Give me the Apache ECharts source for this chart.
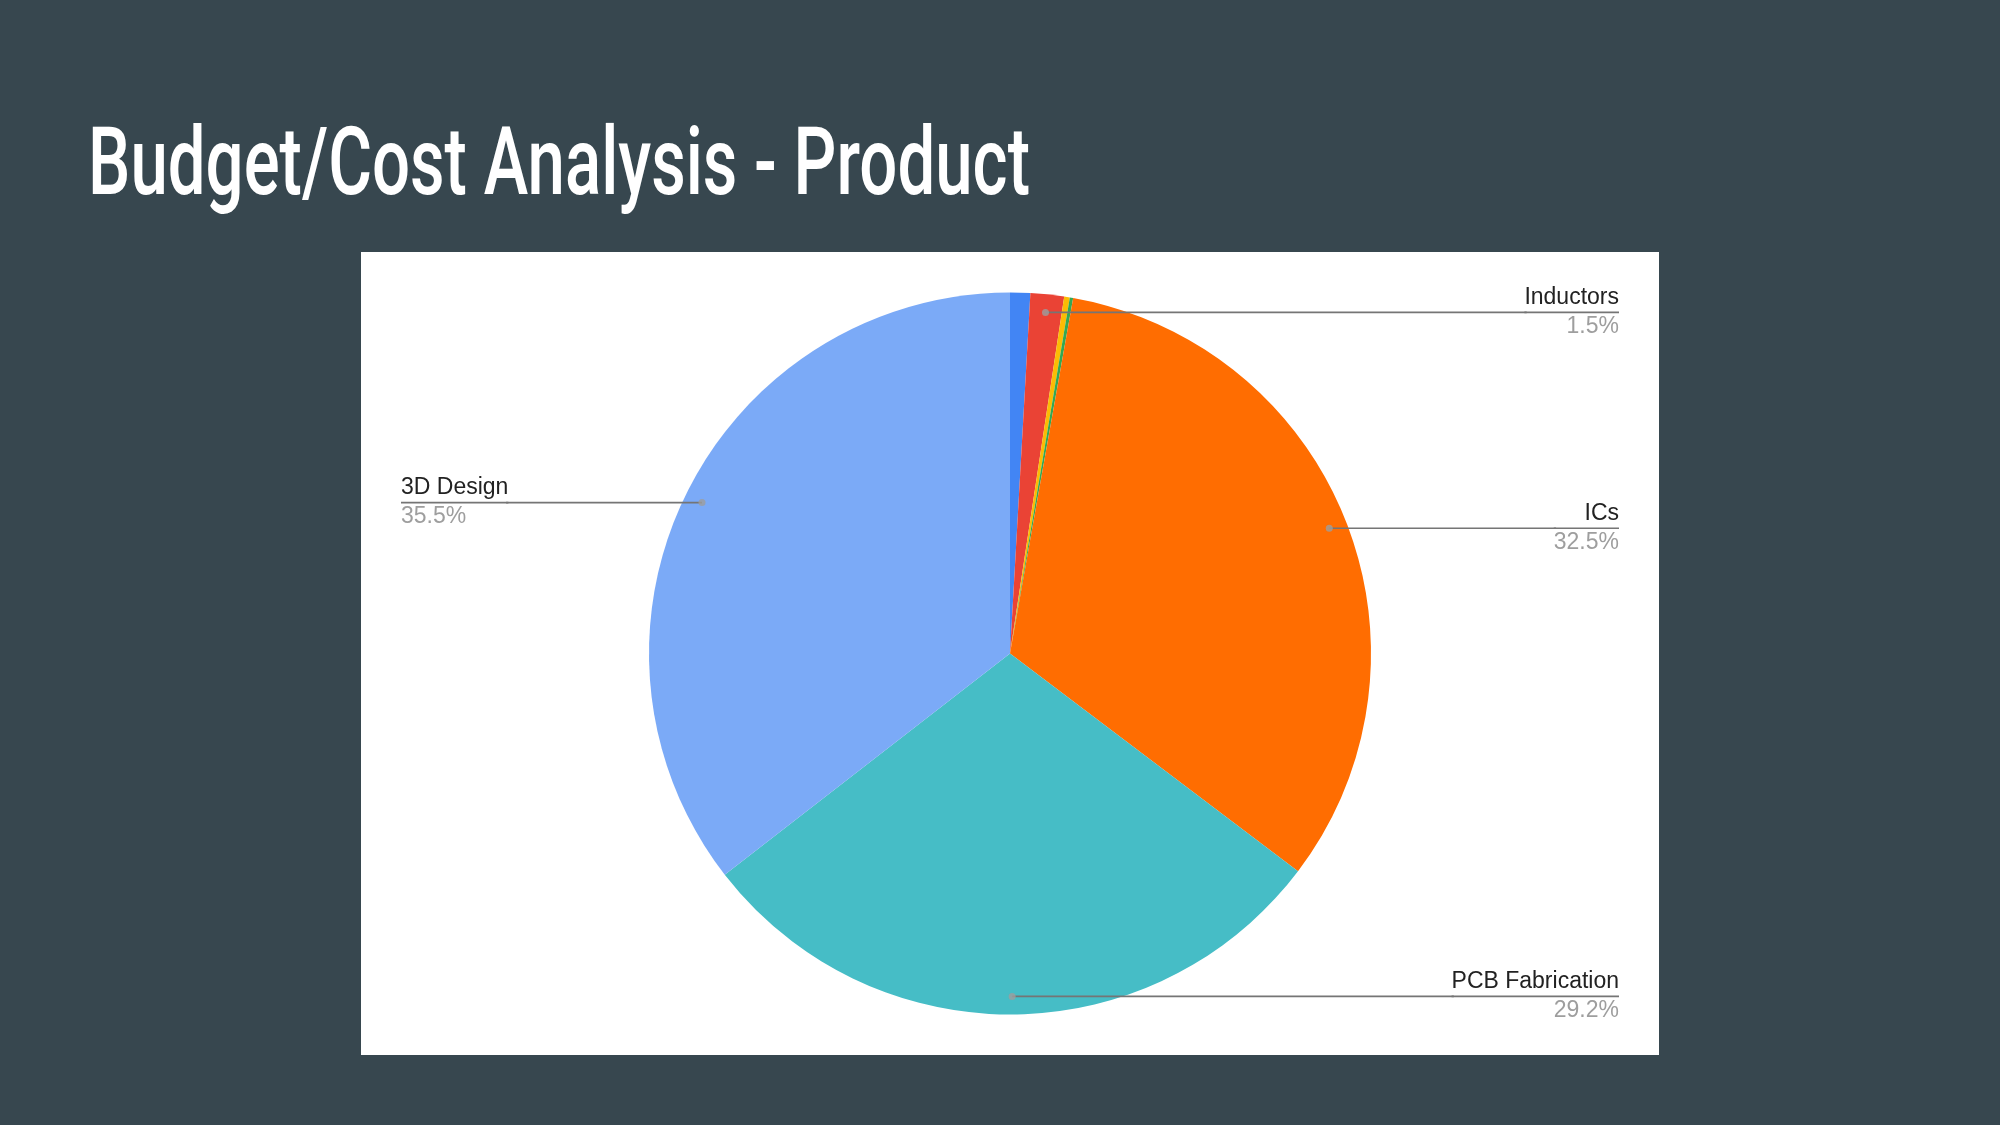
<!DOCTYPE html>
<html>
<head>
<meta charset="utf-8">
<title>Budget/Cost Analysis - Product</title>
<script src="https://cdn.jsdelivr.net/npm/echarts@6/dist/echarts.min.js"></script>
<style>
  html, body { margin: 0; padding: 0; background: #37474f; }
  #chart { width: 2000px; height: 1125px; }
</style>
</head>
<body>
<div id="chart"></div>
<script>
const slideTitle = 'Budget/Cost Analysis - Product';

// slices, clockwise from 12 o'clock (the three slivers carry no label in the source)
const categories = ['Other A', 'Inductors', 'Other B', 'Other C', 'ICs', 'PCB Fabrication', '3D Design'];
const shares = [0.9, 1.5, 0.25, 0.15, 32.5, 29.2, 35.5];
const sliceColors = ['#4285f4', '#ea4335', '#fbbc04', '#34a853', '#ff6d01', '#46bdc6', '#7baaf7'];
const labelled = ['Inductors', 'ICs', 'PCB Fabrication', '3D Design'];

// panel + pie geometry
const panel = { x: 361, y: 252, w: 1298, h: 803 };
const pieRadius = 361;
const pieCenter = [panel.x + panel.w / 2, panel.y + panel.h / 2];

// leader dots sit on each labelled slice's mid angle, a bit inside the rim
const total = shares.reduce((a, b) => a + b, 0);
const dotData = [];
let acc = 0;
shares.forEach((v, i) => {
  if (labelled.includes(categories[i])) dotData.push([0.95, (acc + v / 2) / total * 100]);
  acc += v;
});

// squeeze a regular font to stand in for the condensed slide title face
const titleFont = '500 94px Roboto';
const ctx = document.createElement('canvas').getContext('2d');
ctx.font = titleFont;
const titleScale = 942 / ctx.measureText(slideTitle).width;

const chart = echarts.init(document.getElementById('chart'));

const option = {
  backgroundColor: '#37474f',
  animation: false,
  graphic: [
    {
      type: 'rect',
      silent: true,
      shape: { x: panel.x, y: panel.y, width: panel.w, height: panel.h },
      style: { fill: '#ffffff' }
    },
    {
      type: 'text',
      x: 88,
      y: 170,
      scaleX: titleScale,
      style: {
        text: slideTitle,
        font: titleFont,
        fill: '#ffffff',
        verticalAlign: 'middle'
      }
    }
  ],
  polar: { center: pieCenter, radius: pieRadius },
  angleAxis: { type: 'value', min: 0, max: 100, startAngle: 90, clockwise: true, show: false },
  radiusAxis: { type: 'value', min: 0, max: 1, show: false },
  series: [
    {
      // the visible pie
      type: 'pie',
      silent: true,
      z: 2,
      left: panel.x, top: panel.y, width: panel.w, height: panel.h,
      center: ['50%', '50%'],
      radius: pieRadius,
      startAngle: 90,
      clockwise: true,
      label: { show: false },
      labelLine: { show: false },
      itemStyle: { borderWidth: 0 },
      data: categories.map((name, i) => ({
        name, value: shares[i], itemStyle: { color: sliceColors[i] }
      }))
    },
    {
      // transparent copy, smaller, only to carry the labels and leader lines
      type: 'pie',
      silent: true,
      z: 3,
      left: panel.x, top: panel.y, width: panel.w, height: panel.h,
      center: ['50%', '50%'],
      radius: pieRadius * 0.95,
      startAngle: 90,
      clockwise: true,
      itemStyle: { color: 'rgba(0,0,0,0)', borderWidth: 0 },
      label: {
        show: true,
        position: 'outer',
        alignTo: 'edge',
        edgeDistance: 40,
        distanceToLabelLine: -4,
        formatter: p => `{n|${p.name}}\n{hr|}\n{p|${p.percent.toFixed(1)}%}`,
        rich: {
          n: { fontFamily: 'Liberation Sans', fontSize: 23, color: '#222222', lineHeight: 29 },
          hr: { width: '100%', height: 0, borderColor: '#757575', borderWidth: 1.7 },
          p: { fontFamily: 'Liberation Sans', fontSize: 23, color: '#9e9e9e', lineHeight: 29 }
        }
      },
      labelLine: {
        show: true,
        length: 0,
        length2: 20,
        lineStyle: { color: '#757575', width: 1.7 }
      },
      data: categories.map((name, i) => ({
        name,
        value: shares[i],
        label: { show: labelled.includes(name) },
        labelLine: { show: labelled.includes(name) }
      }))
    },
    {
      type: 'scatter',
      coordinateSystem: 'polar',
      silent: true,
      z: 4,
      symbolSize: 7,
      itemStyle: { color: '#9e9e9e' },
      data: dotData
    }
  ]
};

chart.setOption(option);
</script>
</body>
</html>
